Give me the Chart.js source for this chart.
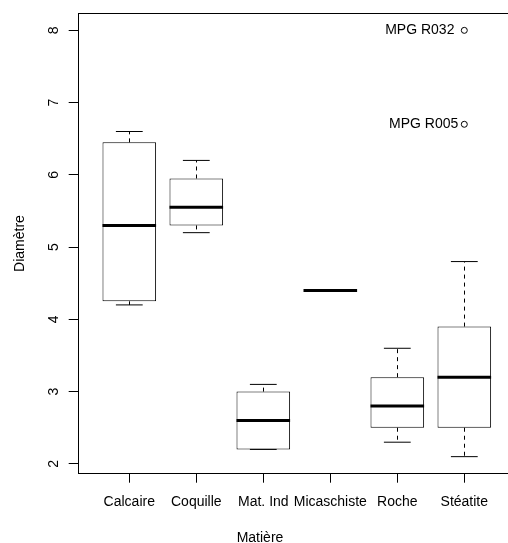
<!DOCTYPE html>
<html><head><meta charset="utf-8">
<script src="https://cdn.jsdelivr.net/npm/chart.js@4/dist/chart.umd.min.js"></script>
<style>html,body{margin:0;padding:0;overflow:hidden;background:#fff}</style>
</head><body>
<canvas id="c" width="540" height="543"></canvas>
<script>
// ---- data ----
const categories = ['Calcaire', 'Coquille', 'Mat. Ind', 'Micaschiste', 'Roche', 'Stéatite'];
const whiskerLow  = [4.2, 5.2, 2.2, 4.4, 2.3, 2.1];
const lowerQuart  = [4.25, 5.3, 2.2, 4.4, 2.5, 2.5];
const medians     = [5.3, 5.55, 2.6, 4.4, 2.8, 3.2];
const upperQuart  = [6.45, 5.95, 3.0, 4.4, 3.2, 3.9];
const whiskerHigh = [6.6, 6.2, 3.1, 4.4, 3.6, 4.8];
const outlierCategory = ['Stéatite', 'Stéatite'];
const outlierValues   = [8.0, 6.7];
const outlierLabels   = ['MPG R032 ', 'MPG R005'];
const yTicks = [2, 3, 4, 5, 6, 7, 8];
const xTitle = 'Matière';
const yTitle = 'Diamètre';

// ---- layout / style ----
const FONT = "'Liberation Sans', Arial, Helvetica, sans-serif";
const BOX_W = 0.8;
const allVals = whiskerLow.concat(whiskerHigh, outlierValues);
const dMin = Math.min(...allVals), dMax = Math.max(...allVals);
const yExt = (dMax - dMin) * 0.04;
const yMin = dMin - yExt, yMax = dMax + yExt;
const xExt = categories.length * 0.045;
const xMin = 0.5 - xExt, xMax = categories.length + 0.5 + xExt;

const boxPlugin = {
  id: 'boxplot',
  beforeDatasetsDraw(chart) {
    const {ctx, chartArea: a} = chart;
    ctx.save();
    ctx.strokeStyle = '#000';
    ctx.lineWidth = 1;
    ctx.strokeRect(Math.round(a.left) + 0.5, Math.round(a.top) + 0.5,
                   Math.round(a.right - a.left), Math.round(a.bottom - a.top));
    ctx.restore();
  },
  afterDatasetsDraw(chart) {
    const {ctx, scales: {x, y}} = chart;
    ctx.save();
    ctx.strokeStyle = '#000';
    categories.forEach((c, i) => {
      const px = x.getPixelForValue(i + 1);
      const hw = x.getPixelForValue(i + 1 + BOX_W / 2) - px;
      const cx = Math.round(px) + 0.5;
      const yHi = y.getPixelForValue(whiskerHigh[i]);
      const yQ3 = y.getPixelForValue(upperQuart[i]);
      const yQ1 = y.getPixelForValue(lowerQuart[i]);
      const yLo = y.getPixelForValue(whiskerLow[i]);
      // dashed whiskers
      ctx.lineWidth = 1;
      ctx.setLineDash([4, 4]);
      ctx.beginPath();
      ctx.moveTo(cx, yQ3); ctx.lineTo(cx, yHi);
      ctx.moveTo(cx, yQ1); ctx.lineTo(cx, yLo);
      ctx.stroke();
      // staples
      ctx.setLineDash([]);
      ctx.beginPath();
      ctx.moveTo(px - hw / 2, yHi); ctx.lineTo(px + hw / 2, yHi);
      ctx.moveTo(px - hw / 2, yLo); ctx.lineTo(px + hw / 2, yLo);
      ctx.stroke();
      // median
      const yM = y.getPixelForValue(medians[i]);
      ctx.lineWidth = 3;
      ctx.lineCap = 'butt';
      ctx.beginPath();
      ctx.moveTo(px - hw, yM); ctx.lineTo(px + hw, yM);
      ctx.stroke();
    });
    // outlier labels
    ctx.fillStyle = '#000';
    ctx.font = '14px ' + FONT;
    ctx.textAlign = 'right';
    ctx.textBaseline = 'middle';
    outlierValues.forEach((v, k) => {
      const px = x.getPixelForValue(categories.indexOf(outlierCategory[k]) + 1);
      ctx.fillText(outlierLabels[k], px - 6, y.getPixelForValue(v));
    });
    // x axis title
    ctx.textAlign = 'center';
    ctx.fillText(xTitle, 260, 538);
    ctx.restore();
  }
};

const tickFont = {family: FONT, size: 14, lineHeight: 1.2};

new Chart(document.getElementById('c'), {
  type: 'bar',
  data: {
    datasets: [
      {
        type: 'bar',
        data: categories.map((c, i) => ({x: i + 1, y: [lowerQuart[i], upperQuart[i]]})),
        backgroundColor: '#fff',
        borderColor: '#000',
        borderWidth: 1,
        borderSkipped: false,
        categoryPercentage: 1,
        barPercentage: BOX_W
      },
      {
        type: 'line',
        data: outlierValues.map((v, k) => ({x: categories.indexOf(outlierCategory[k]) + 1, y: v})),
        showLine: false,
        pointStyle: 'circle',
        pointRadius: 3,
        pointBorderWidth: 1,
        pointBorderColor: '#000',
        pointBackgroundColor: 'rgba(0,0,0,0)',
        borderColor: '#000'
      }
    ]
  },
  options: {
    responsive: false,
    animation: false,
    events: [],
    layout: {padding: {left: 0, top: 13.3, right: 24.1, bottom: 0}},
    plugins: {legend: {display: false}, tooltip: {enabled: false}},
    scales: {
      x: {
        type: 'linear', min: xMin, max: xMax, offset: false,
        afterBuildTicks: s => { s.ticks = categories.map((c, i) => ({value: i + 1})); },
        afterFit: s => { s.height = 69.3; s.paddingLeft = 0; s.paddingRight = 0; s.paddingTop = 0; s.paddingBottom = 0; },
        grid: {display: true, drawOnChartArea: false, drawTicks: true, tickLength: 9, color: '#000', offset: false},
        border: {display: false},
        ticks: {autoSkip: false, maxRotation: 0, minRotation: 0, padding: 10.6, color: '#000', font: tickFont,
                callback: v => categories[Math.round(v) - 1] || ''}
      },
      y: {
        type: 'linear', min: yMin, max: yMax, beginAtZero: false,
        afterBuildTicks: s => { s.ticks = yTicks.map(v => ({value: v})); },
        afterFit: s => { s.width = 77.7; s.paddingLeft = 0; s.paddingRight = 0; s.paddingTop = 0; s.paddingBottom = 0; },
        grid: {display: true, drawOnChartArea: false, drawTicks: true, tickLength: 9, color: '#000'},
        border: {display: false},
        ticks: {minRotation: 90, maxRotation: 90, crossAlign: 'center', padding: 10.5, color: '#000', font: tickFont,
                callback: v => String(v)},
        title: {display: true, text: yTitle, color: '#000', font: tickFont, padding: {top: 12, bottom: 0}}
      }
    }
  },
  plugins: [boxPlugin]
});
</script>
</body></html>
